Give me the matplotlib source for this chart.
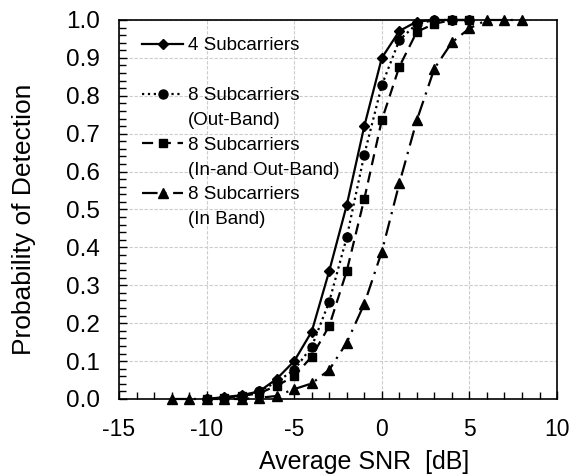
import numpy as np
import matplotlib
matplotlib.use("Agg")
import matplotlib.pyplot as plt
from matplotlib.lines import Line2D
from matplotlib.ticker import MultipleLocator

plt.rcParams['font.family'] = ['Liberation Sans', 'DejaVu Sans']
plt.rcParams['axes.unicode_minus'] = False

# 4 subcarriers
snr_4 = [-10, -9, -8, -7, -6, -5, -4, -3, -2, -1, 0, 1, 2, 3, 4, 5]
pd_4 = [0.0, 0.005, 0.01, 0.02, 0.053, 0.10, 0.178, 0.338, 0.512, 0.72,
        0.90, 0.971, 0.996, 1.0, 1.0, 1.0]

# 8 subcarriers (out-band)
snr_out = [-10, -9, -8, -7, -6, -5, -4, -3, -2, -1, 0, 1, 2, 3, 4, 5]
pd_out = [0.0, 0.003, 0.008, 0.02, 0.045, 0.077, 0.138, 0.257, 0.427, 0.645,
          0.828, 0.947, 0.99, 1.0, 1.0, 1.0]

# 8 subcarriers (in- and out-band)
snr_inout = [-10, -9, -8, -7, -6, -5, -4, -3, -2, -1, 0, 1, 2, 3, 4, 5]
pd_inout = [0.0, 0.003, 0.008, 0.015, 0.035, 0.06, 0.112, 0.193, 0.338, 0.528,
            0.736, 0.877, 0.969, 0.99, 1.0, 1.0]

# 8 subcarriers (in band)
snr_in = [-12, -11, -10, -9, -8, -7, -6, -5, -4, -3, -2, -1, 0, 1, 2, 3, 4, 5, 6, 7, 8]
pd_in = [0.0, 0.0, 0.0, 0.0, 0.0, 0.003, 0.008, 0.026, 0.041, 0.077, 0.149, 0.251,
         0.389, 0.569, 0.736, 0.872, 0.941, 0.978, 1.0, 1.0, 1.0]

fig = plt.figure(figsize=(5.81, 4.76), dpi=100)
ax = fig.add_axes([0.2048, 0.1618, 0.754, 0.7962])

# line styles shared by plot and legend
sty_4 = dict(color='black', lw=1.6, ls='-', marker='D', ms=5.5)
sty_out = dict(color='black', lw=1.6, ls=':', marker='o', ms=6.5)
sty_inout = dict(color='black', lw=1.6, ls=(0, (5, 3)), marker='s', ms=6)
sty_in = dict(color='black', lw=1.6, ls=(0, (7, 3, 1, 3)), marker='^', ms=6.5)

ax.plot(snr_4, pd_4, clip_on=False, zorder=4, **sty_4)
ax.plot(snr_out, pd_out, clip_on=False, zorder=3, **sty_out)
ax.plot(snr_inout, pd_inout, clip_on=False, zorder=3, **sty_inout)
ax.plot(snr_in, pd_in, clip_on=False, zorder=3, **sty_in)

ax.set_xlim(-15, 10)
ax.set_ylim(0, 1.0)
ax.xaxis.set_major_locator(MultipleLocator(5))
ax.xaxis.set_minor_locator(MultipleLocator(1))
ax.yaxis.set_major_locator(MultipleLocator(0.1))
ax.yaxis.set_minor_locator(MultipleLocator(0.02))
ax.yaxis.set_major_formatter(matplotlib.ticker.FormatStrFormatter('%.1f'))

ax.grid(True, which='major', color='#cccccc', ls='--', lw=0.8, dashes=(3, 1.5))
ax.set_axisbelow(True)
ax.tick_params(which='both', direction='in', top=False, right=False, pad=14)
ax.tick_params(axis='x', labelsize=16.5)
ax.tick_params(axis='y', labelsize=17.5)
ax.tick_params(which='major', length=6, width=1)
ax.tick_params(which='minor', length=5, width=1)
for s in ax.spines.values():
    s.set_linewidth(1.2)

ax.set_xlabel('Average SNR  [dB]', fontsize=18)
ax.set_ylabel('Probability of Detection', fontsize=19)
ax.xaxis.set_label_coords(0.559, -0.135)
ax.yaxis.set_label_coords(-0.19, 0.475)

blank = Line2D([], [], ls='none')
handles = [Line2D([], [], **sty_4), blank,
           Line2D([], [], **sty_out), blank,
           Line2D([], [], **sty_inout), blank,
           Line2D([], [], **sty_in), blank]
labels = ['4 Subcarriers', '', '8 Subcarriers', '(Out-Band)',
          '8 Subcarriers', '(In-and Out-Band)', '8 Subcarriers', '(In Band)']
ax.legend(handles, labels, loc='upper left', bbox_to_anchor=(0.04, 0.969),
          frameon=False, fontsize=13.5, handlelength=2.2, handletextpad=0.25,
          labelspacing=0.41, borderaxespad=0, borderpad=0.3)

fig.savefig('out.png', dpi=100)
